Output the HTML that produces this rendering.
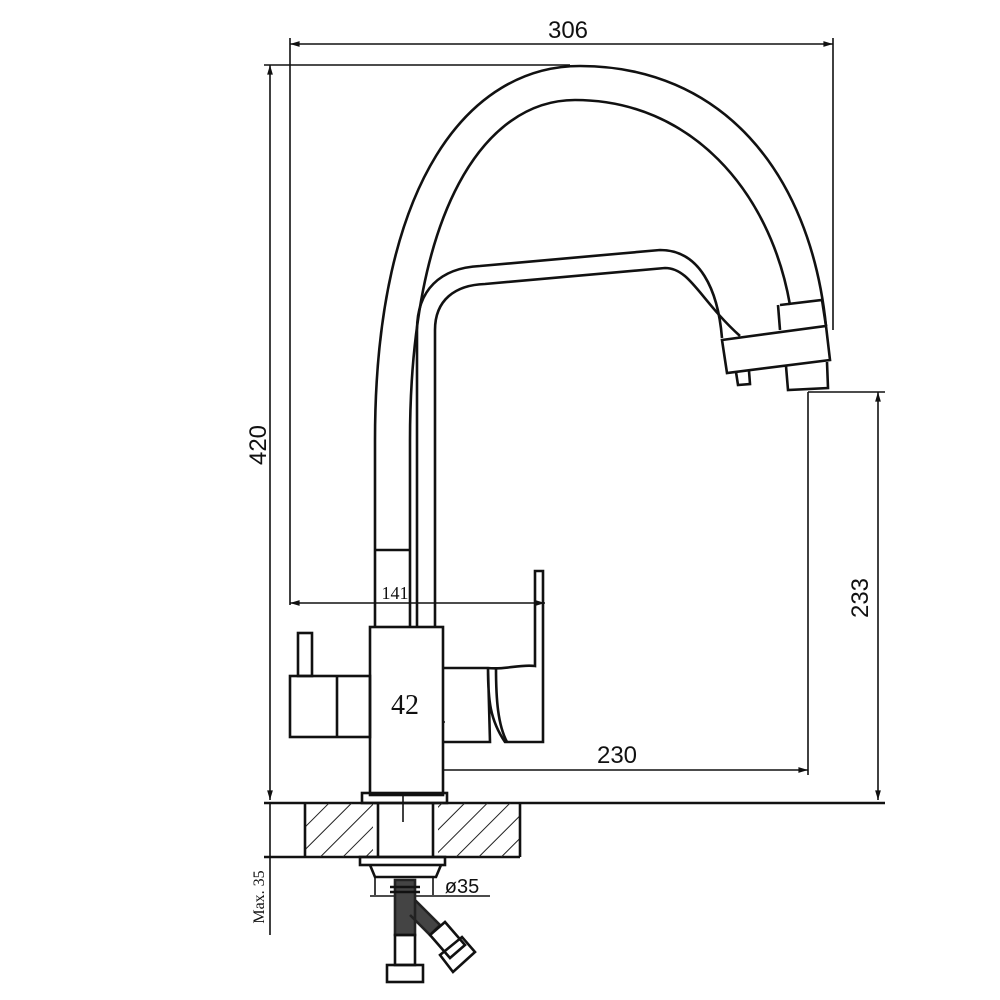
<!DOCTYPE html>
<html><head><style>body{margin:0;background:#fff}svg{display:block}</style></head><body>
<svg width="1000" height="1000" viewBox="0 0 1000 1000" xmlns="http://www.w3.org/2000/svg">
<defs>
<marker id="a" viewBox="0 0 10 10" refX="10" refY="5" markerWidth="9" markerHeight="6" orient="auto-start-reverse"><path d="M0,2 L10,5 L0,8z" fill="#111"/></marker>
<pattern id="h" patternUnits="userSpaceOnUse" width="16" height="16" patternTransform="rotate(45)"><line x1="0" y1="0" x2="0" y2="16" stroke="#222" stroke-width="2"/></pattern>
</defs>
<g fill="none" stroke="#111" stroke-width="2.6">
<line x1="290" y1="44" x2="833" y2="44" marker-start="url(#a)" marker-end="url(#a)" stroke-width="1.6"/>
<line x1="290" y1="38" x2="290" y2="605" stroke-width="1.6"/>
<line x1="833" y1="38" x2="833" y2="330" stroke-width="1.6"/>
<line x1="270" y1="65" x2="270" y2="800" marker-start="url(#a)" marker-end="url(#a)" stroke-width="1.6"/>
<line x1="264" y1="65" x2="570" y2="65" stroke-width="1.6"/>
<line x1="878" y1="392" x2="878" y2="800" marker-start="url(#a)" marker-end="url(#a)" stroke-width="1.6"/>
<line x1="808" y1="392" x2="885" y2="392" stroke-width="1.6"/>
<line x1="808" y1="392" x2="808" y2="775" stroke-width="1.6"/>
<line x1="403" y1="770" x2="808" y2="770" marker-start="url(#a)" marker-end="url(#a)" stroke-width="1.6"/>
<line x1="403" y1="765" x2="403" y2="822" stroke-width="1.6"/>
<line x1="290" y1="603" x2="545" y2="603" marker-start="url(#a)" marker-end="url(#a)" stroke-width="1.6"/>
<line x1="370" y1="722" x2="445" y2="722" marker-start="url(#a)" marker-end="url(#a)" stroke-width="1.6"/>
<line x1="264" y1="803" x2="885" y2="803"/>
<line x1="264" y1="857" x2="520" y2="857"/>
<line x1="270" y1="803" x2="270" y2="935" stroke-width="1.6"/>
<!-- outer spout -->
<path d="M375,627 L375,440 C375,180 470,66 580,66 C720,66 810,170 826,326"/>
<path d="M410,627 L410,440 C410,210 485,100 575,100 C690,100 770,190 790,305"/>
<line x1="375" y1="550" x2="410" y2="550"/>
<!-- inner spout -->
<path d="M417,627 L417,330 C417,290 440,268 480,266 L660,250 C700,250 718,290 722,338"/>
<path d="M435,627 L435,330 C435,300 455,285 485,284 L665,268 C690,268 700,300 740,336"/>
<!-- head -->
<path d="M780,305 L822,300 L826,326"/>
<path d="M778,305 L780,330"/>
<path d="M722,340 L826,326 L830,360 L727,373 Z"/>
<path d="M736,372 L738,385 L750,384 L749,371"/>
<path d="M786,366 L788,390 L828,388 L827,362"/>
<!-- body -->
<rect x="370" y="627" width="73" height="168" fill="#fff"/>
<rect x="290" y="676" width="80" height="61"/>
<line x1="337" y1="676" x2="337" y2="737"/>
<rect x="298" y="633" width="14" height="43"/>
<path d="M443,668 L487,668 L488,668 C505,670 520,664 535,666 L535,571 L543,571 L543,742 L505,742 C490,720 488,700 488,668 M443,742 L490,742 L488,668"/>
<path d="M496,668 C496,700 498,725 507,742"/>
<!-- base -->
<rect x="362" y="793" width="85" height="10"/>
<rect x="305" y="803" width="68" height="54" fill="url(#h)" stroke="none"/>
<rect x="438" y="803" width="82" height="54" fill="url(#h)" stroke="none"/>
<line x1="305" y1="803" x2="305" y2="857"/><line x1="520" y1="803" x2="520" y2="857"/>
<line x1="378" y1="803" x2="378" y2="857"/><line x1="433" y1="803" x2="433" y2="857"/>
<rect x="360" y="857" width="85" height="8"/>
<path d="M370,865 L375,877 L436,877 L441,865"/>
<line x1="375" y1="877" x2="375" y2="895" stroke-width="1.6"/>
<line x1="433" y1="877" x2="433" y2="895" stroke-width="1.6"/>
<line x1="370" y1="896" x2="490" y2="896" stroke-width="1.6"/>
<path d="M395,880 L415,880 L415,935 L395,935 Z M415,900 L440,925 L430,935 L410,915" fill="#444" stroke="#222"/>
<line x1="390" y1="887" x2="420" y2="887"/><line x1="390" y1="892" x2="420" y2="892"/>
<rect x="395" y="935" width="20" height="30"/>
<rect x="387" y="965" width="36" height="17"/>
<path d="M430,935 L445,922 L465,945 L450,958 Z"/>
<path d="M440,955 L462,937 L475,952 L453,972 Z"/>
</g>
<g font-family="Liberation Sans, sans-serif" fill="#111">
<text x="568" y="38" font-size="24" text-anchor="middle">306</text>
<text x="617" y="763" font-size="24" text-anchor="middle">230</text>
<text transform="translate(266,445) rotate(-90)" font-size="24" text-anchor="middle">420</text>
<text transform="translate(868,598) rotate(-90)" font-size="24" text-anchor="middle">233</text>
<text x="395" y="599" font-size="18" font-family="Liberation Serif, serif" text-anchor="middle">141</text>
<text x="405" y="714" font-size="28" font-family="Liberation Serif, serif" text-anchor="middle">42</text>
<text x="462" y="893" font-size="20" text-anchor="middle">ø35</text>
<text transform="translate(264,897) rotate(-90)" font-size="16" font-family="Liberation Serif, serif" text-anchor="middle">Max. 35</text>
</g>
</svg>
</body></html>
